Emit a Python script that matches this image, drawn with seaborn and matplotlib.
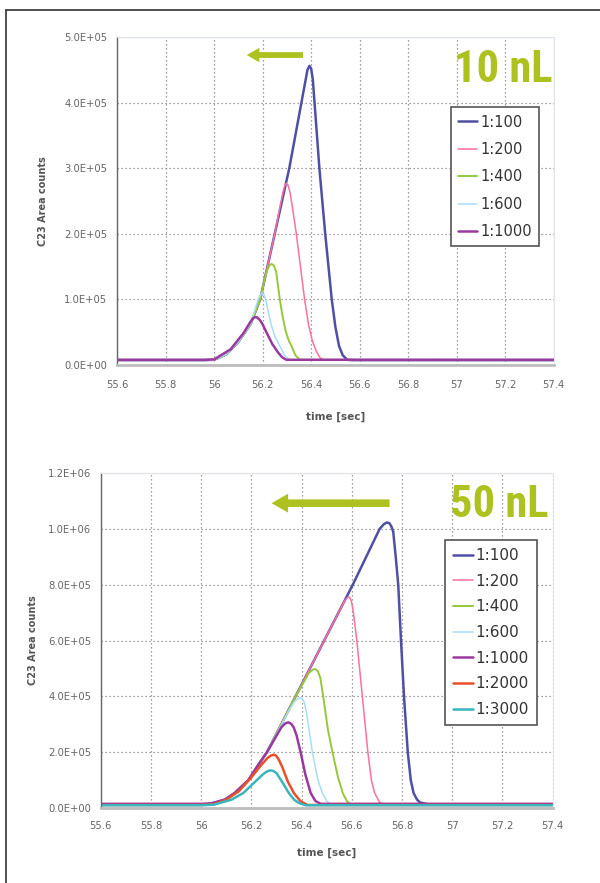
import numpy as np
import pandas as pd
import matplotlib
matplotlib.use('Agg')
import matplotlib.pyplot as plt
import seaborn as sns
from matplotlib.lines import Line2D
from matplotlib import font_manager

# ---- data: time [sec] vs C23 area counts ----
x_ticks = [55.6, 55.8, 56.0, 56.2, 56.4, 56.6, 56.8, 57.0, 57.2, 57.4]
x_labels = ['55.6', '55.8', '56', '56.2', '56.4', '56.6', '56.8', '57', '57.2', '57.4']
y_ticks_10 = [0, 1e5, 2e5, 3e5, 4e5, 5e5]
y_labels_10 = ['0.0E+00', '1.0E+05', '2.0E+05', '3.0E+05', '4.0E+05', '5.0E+05']
y_ticks_50 = [0, 2e5, 4e5, 6e5, 8e5, 1e6, 1.2e6]
y_labels_50 = ['0.0E+00', '2.0E+05', '4.0E+05', '6.0E+05', '8.0E+05', '1.0E+06', '1.2E+06']

# 10 nL injections
t10_100 = [55.6, 55.96, 56.0, 56.05, 56.1, 56.15, 56.19, 56.25, 56.31, 56.36, 56.375, 56.385, 56.393, 56.40, 56.407, 56.414, 56.434, 56.458, 56.485, 56.5, 56.515, 56.53, 56.549, 56.57, 57.4]
c10_100 = [7.5e3, 7.5e3, 8e3, 1.6e4, 3.5e4, 6.2e4, 1.0e5, 2.0e5, 3.0e5, 4.0e5, 4.3e5, 4.5e5, 4.56e5, 4.52e5, 4.35e5, 4.0e5, 3.0e5, 2.0e5, 1.0e5, 5.8e4, 2.9e4, 1.5e4, 8e3, 7.5e3, 7.5e3]
t10_200 = [55.6, 55.96, 56.0, 56.05, 56.1, 56.15, 56.19, 56.25, 56.27, 56.283, 56.292, 56.298, 56.305, 56.313, 56.323, 56.339, 56.356, 56.373, 56.39, 56.405, 56.42, 56.435, 56.447, 57.4]
c10_200 = [7.5e3, 7.5e3, 8e3, 1.6e4, 3.5e4, 6.2e4, 1.0e5, 2.0e5, 2.38e5, 2.62e5, 2.74e5, 2.77e5, 2.74e5, 2.63e5, 2.4e5, 2.0e5, 1.5e5, 1.0e5, 6.0e4, 3.7e4, 2.2e4, 1.2e4, 8e3, 7.5e3]
t10_400 = [55.6, 55.96, 56.0, 56.05, 56.1, 56.15, 56.19, 56.205, 56.218, 56.228, 56.237, 56.246, 56.256, 56.262, 56.271, 56.282, 56.295, 56.307, 56.319, 56.335, 56.353, 57.4]
c10_400 = [7.5e3, 7.5e3, 8e3, 1.6e4, 3.5e4, 6.2e4, 1.0e5, 1.25e5, 1.44e5, 1.52e5, 1.54e5, 1.52e5, 1.42e5, 1.25e5, 1.0e5, 7.5e4, 5.2e4, 3.8e4, 2.9e4, 1.5e4, 8e3, 7.5e3]
t10_600 = [55.6, 55.96, 56.0, 56.05, 56.1, 56.15, 56.18, 56.19, 56.197, 56.205, 56.214, 56.224, 56.235, 56.25, 56.271, 56.29, 56.312, 57.4]
c10_600 = [7.5e3, 7.5e3, 8e3, 1.6e4, 3.5e4, 6.2e4, 9.8e4, 1.07e5, 1.10e5, 1.08e5, 9.8e4, 8.0e4, 6.2e4, 4.4e4, 2.9e4, 1.5e4, 8e3, 7.5e3]
t10_1000 = [55.6, 55.96, 56.0, 56.068, 56.122, 56.15, 56.16, 56.169, 56.178, 56.19, 56.2, 56.217, 56.24, 56.264, 56.28, 56.298, 57.4]
c10_1000 = [8e3, 8e3, 8.5e3, 2.4e4, 4.9e4, 6.6e4, 7.1e4, 7.3e4, 7.25e4, 6.8e4, 6.2e4, 4.9e4, 3.2e4, 1.9e4, 1.2e4, 8e3, 8e3]

# 50 nL injections
t50_100 = [55.6, 56.0, 56.04, 56.094, 56.134, 56.188, 56.224, 56.262, 56.376, 56.49, 56.604, 56.711, 56.728, 56.74, 56.75, 56.758, 56.765, 56.775, 56.785, 56.796, 56.808, 56.823, 56.835, 56.846, 56.86, 56.872, 56.9, 56.926, 57.4]
c50_100 = [1.2e4, 1.2e4, 1.5e4, 3.0e4, 5.4e4, 1.0e5, 1.5e5, 2.0e5, 4.0e5, 6.0e5, 8.0e5, 1.0e6, 1.017e6, 1.023e6, 1.02e6, 1.008e6, 9.9e5, 9.0e5, 8.0e5, 6.0e5, 4.0e5, 2.0e5, 1.0e5, 5.4e4, 3.0e4, 2.0e4, 1.4e4, 1.2e4, 1.2e4]
t50_200 = [55.6, 56.0, 56.04, 56.094, 56.134, 56.188, 56.224, 56.262, 56.376, 56.49, 56.57, 56.582, 56.59, 56.597, 56.604, 56.612, 56.62, 56.642, 56.664, 56.678, 56.691, 56.711, 56.738, 57.4]
c50_200 = [1.2e4, 1.2e4, 1.5e4, 3.0e4, 5.4e4, 1.0e5, 1.5e5, 2.0e5, 4.0e5, 6.0e5, 7.4e5, 7.54e5, 7.56e5, 7.45e5, 7.15e5, 6.6e5, 6.0e5, 4.0e5, 2.0e5, 1.0e5, 5.4e4, 2.0e4, 1.2e4, 1.2e4]
t50_400 = [55.6, 56.0, 56.04, 56.094, 56.134, 56.188, 56.224, 56.262, 56.376, 56.43, 56.445, 56.455, 56.465, 56.475, 56.486, 56.505, 56.523, 56.545, 56.564, 56.58, 56.597, 57.4]
c50_400 = [1.2e4, 1.2e4, 1.5e4, 3.0e4, 5.4e4, 1.0e5, 1.5e5, 2.0e5, 4.0e5, 4.85e5, 4.96e5, 4.98e5, 4.9e5, 4.65e5, 4.0e5, 2.8e5, 2.0e5, 1.1e5, 5.4e4, 2.5e4, 1.2e4, 1.2e4]
t50_600 = [55.6, 56.0, 56.04, 56.094, 56.134, 56.188, 56.224, 56.262, 56.35, 56.372, 56.388, 56.4, 56.41, 56.42, 56.443, 56.465, 56.483, 56.5, 56.517, 57.4]
c50_600 = [1.2e4, 1.2e4, 1.5e4, 3.0e4, 5.4e4, 1.0e5, 1.5e5, 2.0e5, 3.5e5, 3.82e5, 3.93e5, 3.94e5, 3.8e5, 3.4e5, 2.0e5, 1.0e5, 5.4e4, 2.5e4, 1.2e4, 1.2e4]
t50_1000 = [55.6, 56.0, 56.04, 56.094, 56.134, 56.188, 56.224, 56.262, 56.32, 56.335, 56.347, 56.358, 56.368, 56.38, 56.396, 56.415, 56.436, 56.455, 56.477, 57.4]
c50_1000 = [1.5e4, 1.5e4, 1.7e4, 3.0e4, 5.4e4, 1.0e5, 1.5e5, 2.0e5, 2.9e5, 3.03e5, 3.07e5, 3.02e5, 2.9e5, 2.6e5, 2.0e5, 1.2e5, 5.4e4, 2.5e4, 1.5e4, 1.5e4]
t50_2000 = [55.6, 56.0, 56.05, 56.1, 56.15, 56.2, 56.24, 56.265, 56.278, 56.289, 56.298, 56.308, 56.322, 56.345, 56.369, 56.395, 56.423, 57.4]
c50_2000 = [1.1e4, 1.1e4, 1.4e4, 3.0e4, 6.0e4, 1.1e5, 1.55e5, 1.8e5, 1.88e5, 1.91e5, 1.88e5, 1.75e5, 1.49e5, 9.5e4, 5.4e4, 2.5e4, 1.1e4, 1.1e4]
t50_3000 = [55.6, 56.0, 56.05, 56.121, 56.168, 56.21, 56.245, 56.262, 56.275, 56.287, 56.3, 56.325, 56.349, 56.37, 56.389, 56.416, 57.4]
c50_3000 = [1.0e4, 1.0e4, 1.2e4, 3.0e4, 5.4e4, 9.0e4, 1.2e5, 1.31e5, 1.35e5, 1.33e5, 1.25e5, 9.0e4, 5.4e4, 3.0e4, 1.8e4, 1.0e4, 1.0e4]

series_10 = [('1:100', t10_100, c10_100), ('1:200', t10_200, c10_200), ('1:400', t10_400, c10_400),
             ('1:600', t10_600, c10_600), ('1:1000', t10_1000, c10_1000)]
series_50 = [('1:100', t50_100, c50_100), ('1:200', t50_200, c50_200), ('1:400', t50_400, c50_400),
             ('1:600', t50_600, c50_600), ('1:1000', t50_1000, c50_1000), ('1:2000', t50_2000, c50_2000),
             ('1:3000', t50_3000, c50_3000)]

colors = {'1:100': '#4f4fa6', '1:200': '#ff6f9f', '1:400': '#95c83a', '1:600': '#a8dcf8',
          '1:1000': '#9a3aa0', '1:2000': '#e8502a', '1:3000': '#3ab5bd'}
widths = {'1:100': 1.8, '1:200': 1.1, '1:400': 1.4, '1:600': 1.1, '1:1000': 1.8, '1:2000': 1.8, '1:3000': 1.8}
olive = '#adc21e'

sns.set_style('white')
plt.rcParams['font.family'] = ['DejaVu Sans']

# a narrow bold face for the big "nL" tags, if one is around
names = set(f.name for f in font_manager.fontManager.ttflist)
tag_font = dict(family='DejaVu Sans', fontsize=24, fontweight='bold')
for cand in ['Liberation Sans Narrow', 'DejaVu Sans Condensed', 'Roboto Condensed', 'Open Sans Condensed']:
    if cand in names:
        tag_font = dict(family=cand, fontsize=32, fontweight='bold')
        break
if tag_font['family'] == 'DejaVu Sans':
    cond = [f for f in font_manager.fontManager.ttflist if f.name == 'DejaVu Sans' and 'Condensed' in f.fname and 'Bold' in f.fname]
    if cond:
        tag_font = dict(fontproperties=font_manager.FontProperties(fname=cond[0].fname, size=29))

fig = plt.figure(figsize=(6, 8.83), dpi=100)
ax1 = fig.add_axes([0.195, 0.5866, 0.728, 0.3715])
ax2 = fig.add_axes([0.168, 0.0849, 0.753, 0.3794])


def panel(ax, series, yt, yl, ymax, tag, arrow, leg_anchor, leg_font, leg_space, tpad, lx, ly):
    for name, t, c in series:
        df = pd.DataFrame({'time': t, 'counts': c})
        sns.lineplot(data=df, x='time', y='counts', ax=ax, color=colors[name], lw=widths[name],
                     label=name, sort=False, estimator=None)
    ax.set_xlim(55.6, 57.4)
    ax.set_ylim(0, ymax)
    ax.set_xticks(x_ticks)
    ax.set_xticklabels(x_labels)
    ax.set_yticks(yt)
    ax.set_yticklabels(yl)
    ax.grid(True, linestyle=(0, (1, 2.2)), color='#808080', lw=0.9)
    ax.set_axisbelow(True)
    for s in ['top', 'right']:
        ax.spines[s].set_color('#dde4ea')
        ax.spines[s].set_linewidth(0.8)
    ax.spines['left'].set_color('#666666')
    ax.spines['left'].set_linewidth(1.0)
    ax.spines['bottom'].set_color('#bdbdbd')
    ax.spines['bottom'].set_linewidth(2.0)
    ax.tick_params(axis='y', length=3, color='#666666', labelsize=7.2, labelcolor='#666666', pad=4)
    ax.tick_params(axis='x', length=2, color='#999999', labelsize=7.2, labelcolor='#666666', pad=tpad)
    ax.set_xlabel('time [sec]', fontsize=7.5, fontweight='bold', color='#555555')
    ax.set_ylabel('C23 Area counts', fontsize=7, fontweight='bold', color='#555555')
    ax.yaxis.set_label_coords(lx, 0.5)
    ax.xaxis.set_label_coords(0.5, ly)
    leg = ax.legend(loc='upper left', bbox_to_anchor=leg_anchor, fontsize=leg_font, labelspacing=leg_space,
                    handlelength=1.3, handletextpad=0.2, borderpad=0.5, fancybox=False,
                    edgecolor='#555555', framealpha=1)
    leg.get_frame().set_linewidth(1.2)
    for txt in leg.get_texts():
        txt.set_color('#333333')
    ax.text(tag[1], tag[2], tag[0], transform=ax.transAxes, ha='right', va='center',
            color=olive, **tag_font)
    ax.annotate('', xy=(arrow[1], arrow[2]), xytext=(arrow[0], arrow[2]),
                xycoords='axes fraction', textcoords='axes fraction',
                arrowprops=dict(arrowstyle='simple,head_length=0.7,head_width=0.8,tail_width=0.32',
                                mutation_scale=arrow[3], color=olive, lw=0, shrinkA=0, shrinkB=0))


panel(ax1, series_10, y_ticks_10, y_labels_10, 5e5, ('10 nL', 0.998, 0.899),
      (0.426, 0.297, 0.945, 13), (0.748, 0.808), 10.5, 0.85, 9, -0.158, -0.143)
panel(ax2, series_50, y_ticks_50, y_labels_50, 1.2e6, ('50 nL', 0.991, 0.904),
      (0.639, 0.378, 0.910, 17), (0.745, 0.822), 11, 0.7, 7, -0.139, -0.119)

# frame lines of the figure panel
fig.add_artist(Line2D([0.01, 1.0], [1 - 10 / 883, 1 - 10 / 883], transform=fig.transFigure, color='#333333', lw=1.2))
fig.add_artist(Line2D([0.01, 0.01], [0.0, 1 - 10 / 883], transform=fig.transFigure, color='#333333', lw=1.2))

fig.savefig('out.png', dpi=100)
